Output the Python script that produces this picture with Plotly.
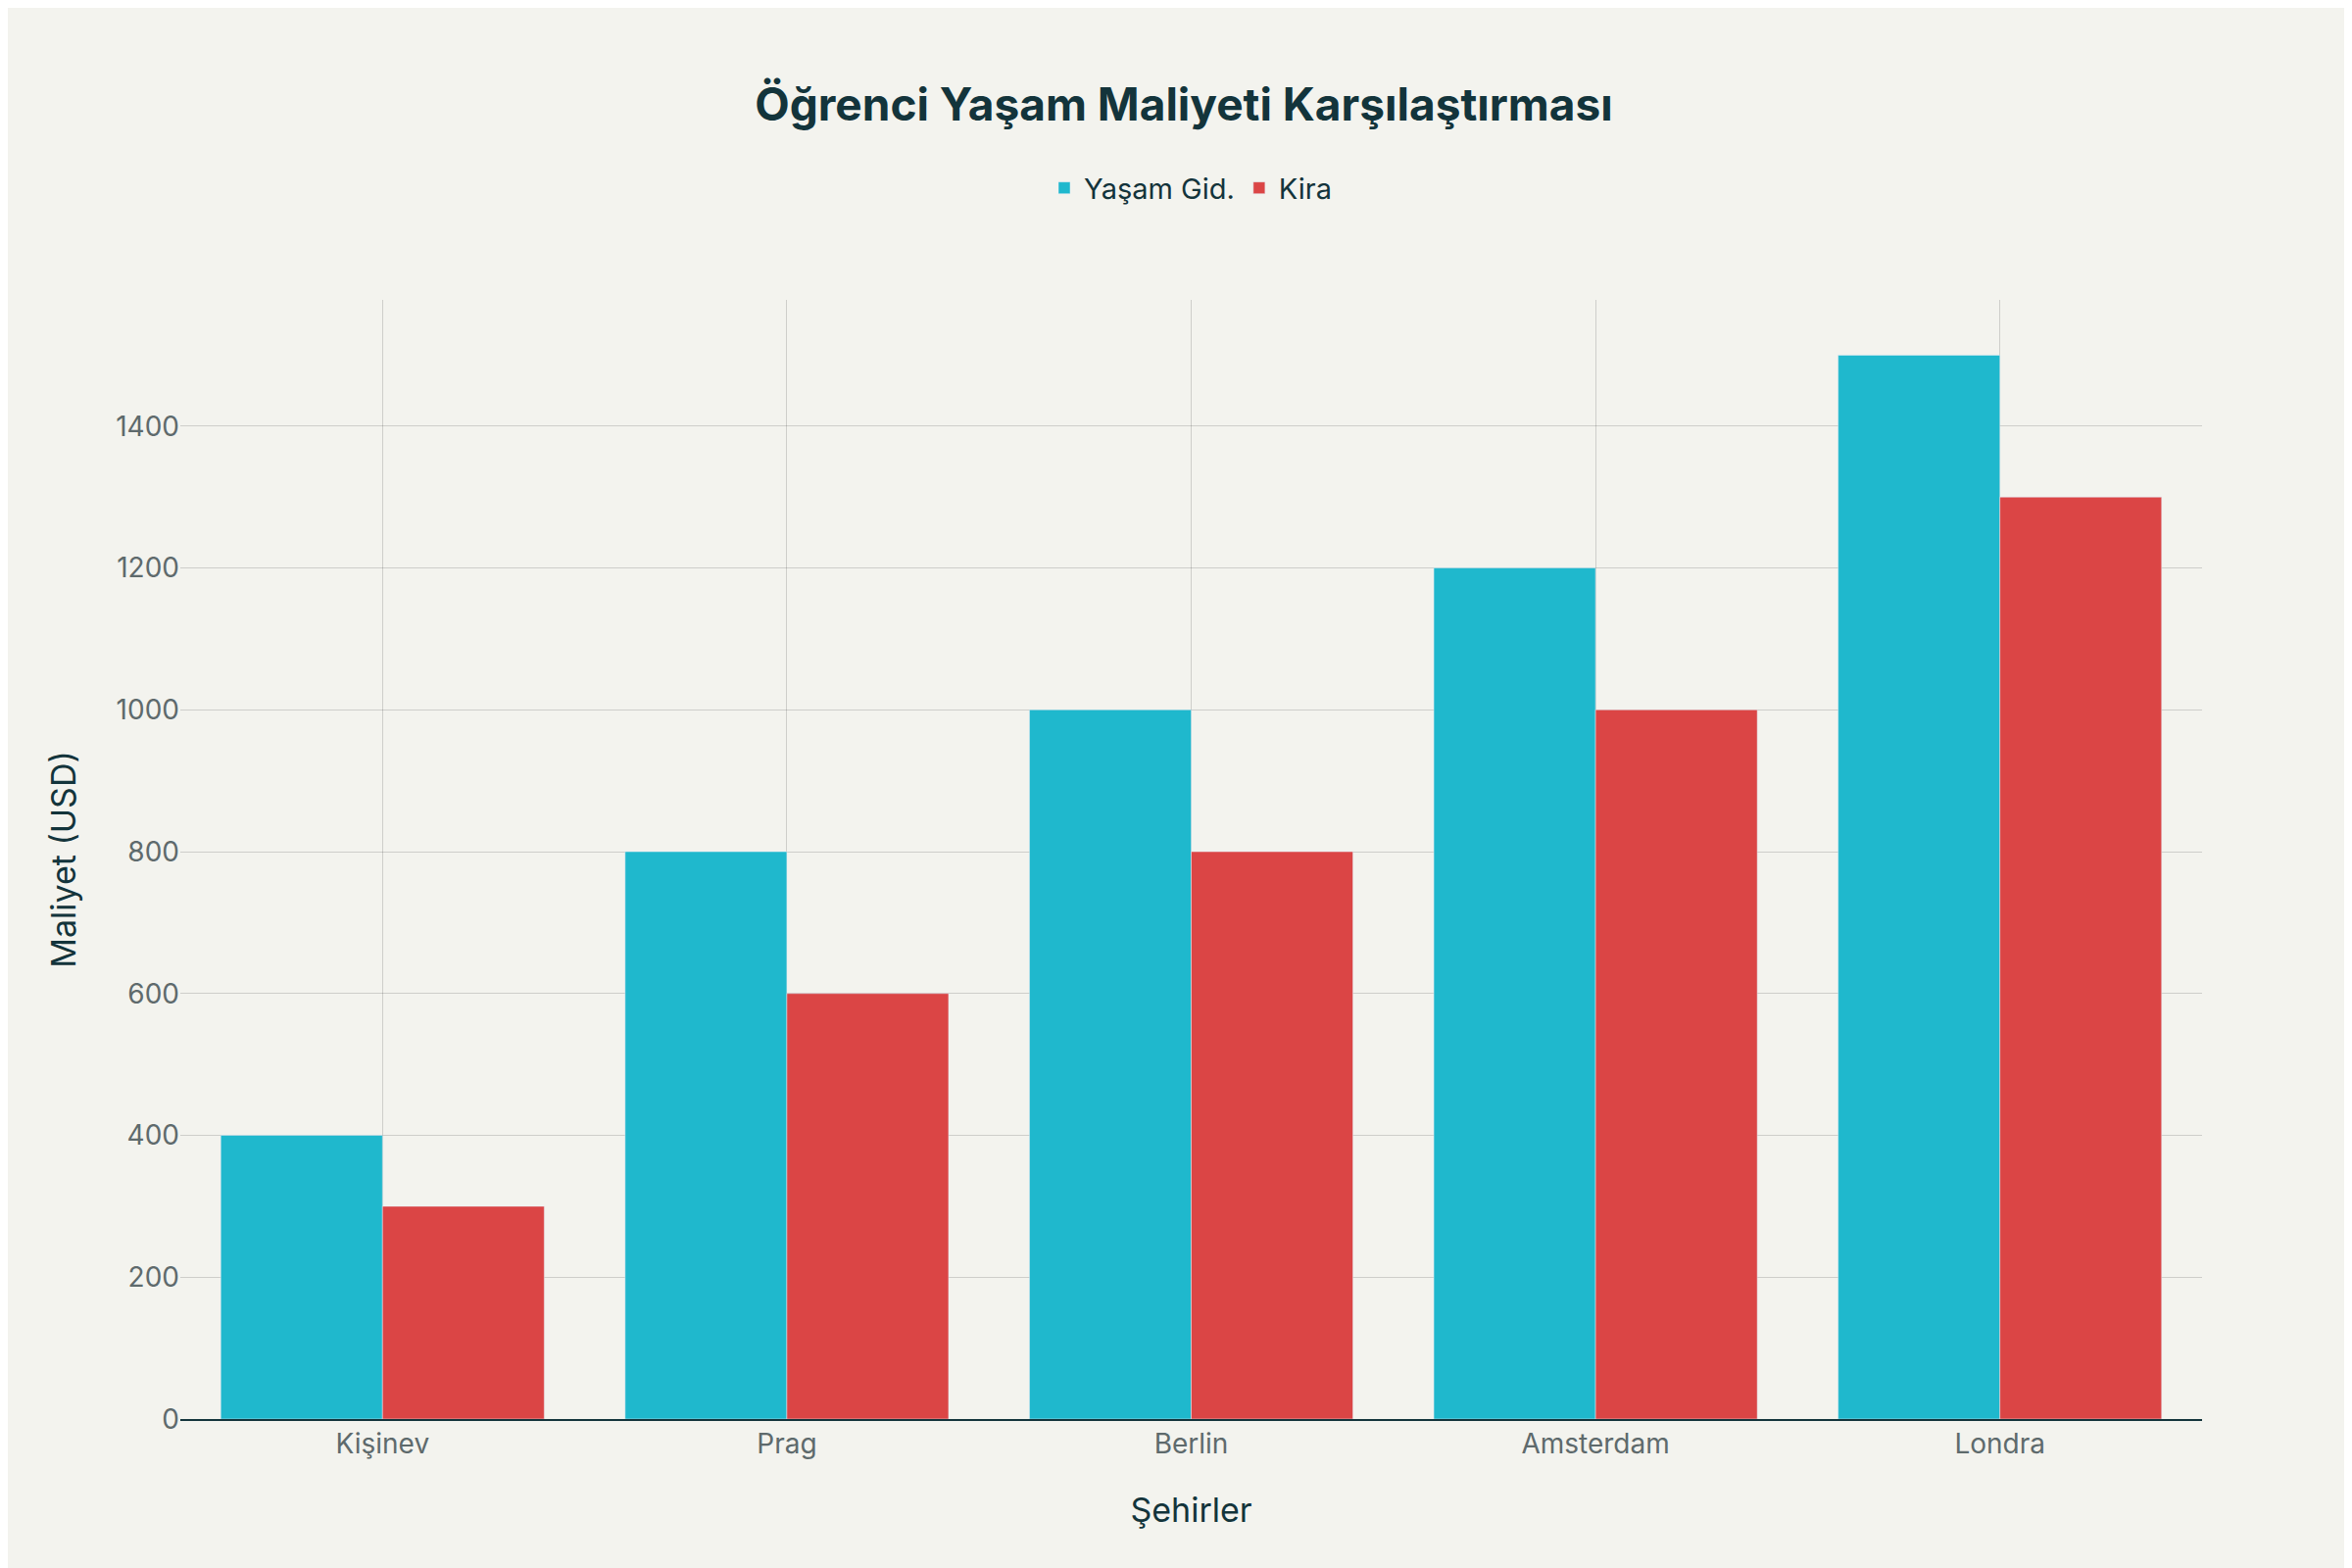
import plotly.graph_objects as go

cities = ["Kişinev", "Prag", "Berlin", "Amsterdam", "Londra"]
living = [400, 800, 1000, 1200, 1500]
rent = [300, 600, 800, 1000, 1300]

fig = go.Figure()
fig.add_trace(go.Bar(name="Yaşam Gid.", x=cities, y=living, marker_color="#1FB8CD", cliponaxis=False))
fig.add_trace(go.Bar(name="Kira", x=cities, y=rent, marker_color="#DB4545", cliponaxis=False))

fig.update_layout(
    width=2400, height=1600,
    paper_bgcolor="#F3F3EE", plot_bgcolor="#F3F3EE",
    font=dict(family="Inter, Roboto, sans-serif", color="#13343B", size=27),
    title=dict(text="<b>Öğrenci Yaşam Maliyeti Karşılaştırması</b>", x=0.5, xanchor="center",
               y=0.938, yanchor="middle", font=dict(size=46)),
    legend=dict(orientation="h", x=0.5, xanchor="center", y=1.1, yanchor="middle",
                font=dict(size=29)),
    barmode="group", bargap=0.2, bargroupgap=0,
    margin=dict(l=176, r=161, t=298, b=160),
    xaxis=dict(title=dict(text="Şehirler", font=dict(size=34), standoff=40),
               showgrid=True, gridcolor="rgba(0,0,0,0.15)", gridwidth=1,
               showline=True, linecolor="#13343B", linewidth=1.5,
               tickfont=dict(size=28, color="#5E6A6C"), ticks=""),
    yaxis=dict(title=dict(text="Maliyet (USD)", font=dict(size=34), standoff=30),
               range=[0, 1578], dtick=200, showgrid=True, gridcolor="rgba(0,0,0,0.15)",
               zeroline=False, tickfont=dict(size=28, color="#5E6A6C"), ticks=""),
)
fig.write_html("out.html")
